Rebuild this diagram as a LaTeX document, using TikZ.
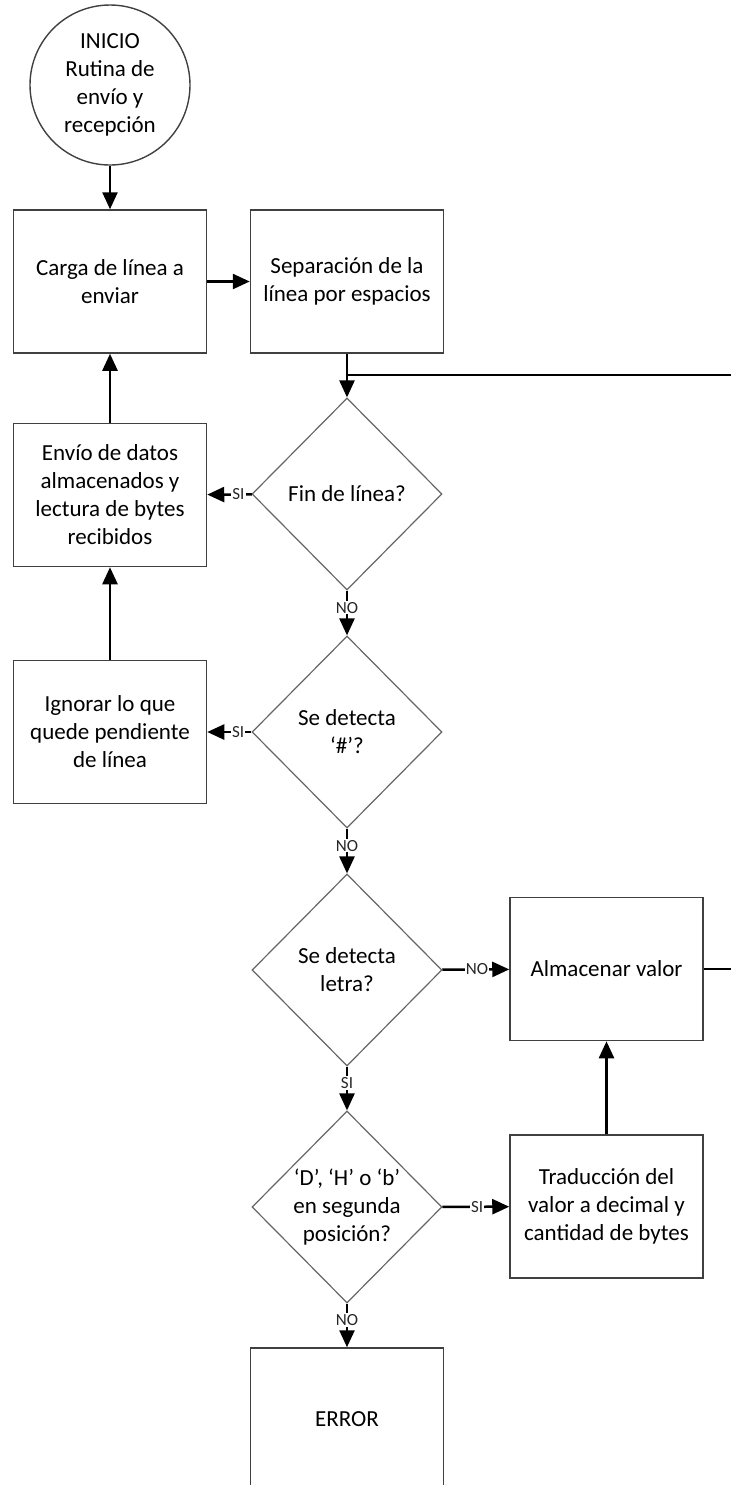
\documentclass[tikz,border=0pt]{standalone}
\usepackage{fontspec}
\setmainfont{Carlito}
\usetikzlibrary{shapes.geometric,arrows.meta}
\tikzset{
  base/.style={font=\fontsize{11.5}{14}\selectfont, align=center, inner sep=0pt},
  stepbox/.style={base, rectangle, draw=black!75, line width=0.75pt,
                  minimum width=96.5pt, minimum height=71.5pt},
  startnode/.style={base, circle, draw=black!75, line width=0.7pt, minimum size=80pt},
  decision/.style={base, diamond, draw=black!60, line width=0.6pt,
                   minimum width=95pt, minimum height=96pt},
  flow/.style={-{Triangle[length=8.5pt,width=7.5pt]}, line width=1.25pt},
  plain/.style={line width=1.25pt},
  tag/.style={font=\fontsize{8.5}{9}\selectfont, fill=white, inner sep=0.6pt, text=black!85},
}
\begin{document}
\begin{tikzpicture}[x=0.5pt, y=-0.5pt]
    \clip (0,0) rectangle (731,1485);
    \node[startnode] (start) at (110, 85) {INICIO\\Rutina de\\envío y\\recepción};
    \node[stepbox] (load) at (110, 281.5) {Carga de línea a\\enviar};
    \node[stepbox] (split) at (347, 281.5) {Separación de la\\línea por espacios};
    \node[decision] (endq) at (347, 494) {Fin de línea?};
    \node[stepbox] (send) at (110, 495) {Envío de datos\\almacenados y\\lectura de bytes\\recibidos};
    \node[decision] (hashq) at (347, 732) {Se detecta\\‘\#’?};
    \node[stepbox] (skip) at (110, 732) {Ignorar lo que\\quede pendiente\\de línea};
    \node[decision] (letterq) at (347, 970) {Se detecta\\letra?};
    \node[stepbox] (store) at (606.5, 969) {Almacenar valor};
    \node[decision] (posq) at (347, 1207) {‘D’, ‘H’ o ‘b’\\en segunda\\posición?};
    \node[stepbox] (conv) at (606.5, 1206.5) {Traducción del\\valor a decimal y\\cantidad de bytes};
    \node[stepbox] (error) at (347, 1419.5) {ERROR};
    \coordinate (join) at (347, 375);
    \coordinate (edgetop) at (731, 375);
    \coordinate (edgemid) at (731, 969);
    \draw[flow] (start) -- (load);
    \draw[flow] (load) -- (split);
    \draw[plain] (split) -- (join);
    \draw[plain] (edgetop) -- (join);
    \draw[flow] (join) -- (endq);
    \draw[flow] (endq) -- node[tag, pos=.3] {SI} (send);
    \draw[flow] (send) -- (load);
    \draw[flow] (endq) -- node[tag, pos=.38] {NO} (hashq);
    \draw[flow] (hashq) -- node[tag, pos=.3] {SI} (skip);
    \draw[flow] (skip) -- (send);
    \draw[flow] (hashq) -- node[tag, pos=.38] {NO} (letterq);
    \draw[flow] (letterq) -- node[tag, pos=.52] {NO} (store);
    \draw[plain] (store) -- (edgemid);
    \draw[flow] (letterq) -- node[tag, pos=.38] {SI} (posq);
    \draw[flow] (posq) -- node[tag, pos=.52] {SI} (conv);
    \draw[flow] (conv) -- (store);
    \draw[flow] (posq) -- node[tag, pos=.38] {NO} (error);
  \end{tikzpicture}
\end{document}
